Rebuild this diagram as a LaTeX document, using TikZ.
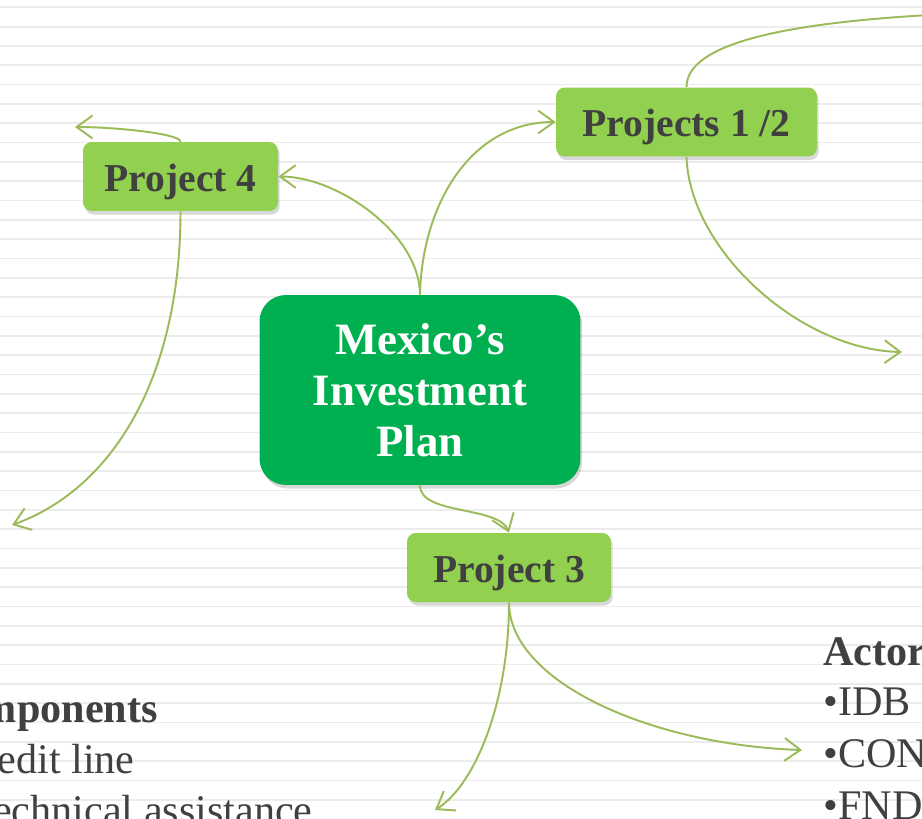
\documentclass[tikz,border=0pt]{standalone}
\usepackage{fontspec}
\setmainfont{Liberation Serif}
\usepackage{tikz}
\usetikzlibrary{arrows.meta, shadows}
\definecolor{mygreen}{RGB}{0,176,80}
\definecolor{mylime}{RGB}{146,208,80}
\definecolor{myolive}{RGB}{155,187,89}
\definecolor{mytext}{RGB}{64,64,64}
\definecolor{mystripe}{RGB}{236,236,236}
\tikzset{
  mainbox/.style={rectangle, fill=mygreen, text=white, align=center,
    minimum width=6.42cm, minimum height=3.8cm, rounded corners=15pt,
    font=\fontsize{25.5}{29}\selectfont\bfseries,
    drop shadow={shadow xshift=1pt, shadow yshift=-2pt, opacity=0.3}},
  projbox/.style={rectangle, fill=mylime, text=mytext, align=center,
    minimum height=1.38cm, rounded corners=5pt, text height=16.8pt, text depth=0pt,
    font=\fontsize{22.5}{26}\selectfont\bfseries,
    drop shadow={shadow xshift=1pt, shadow yshift=-2pt, opacity=0.3}},
  link/.style={-{Straight Barb[length=9pt,width=13pt]}, line width=1.1pt, color=myolive},
  stripe/.style={line width=1pt, color=mystripe},
  listtext/.style={font=\fontsize{24}{29}\selectfont, text=mytext, inner sep=0pt}
}

\begin{document}
\begin{tikzpicture}[x=0.02cm, y=-0.02cm]
  \useasboundingbox (0,0) rectangle (922,818);
  \clip (0,0) rectangle (922,818);
  \fill[white] (0,0) rectangle (922,818);
  \foreach \k in {0,...,41}
    \draw[stripe] (0,7.3+19.33*\k) -- (922,7.3+19.33*\k);

  \node[mainbox] (plan) at (420,390) {Mexico’s\\Investment\\Plan};
  \node[projbox, minimum width=3.9cm] (proj4) at (180.5,176.5) {Project 4};
  \node[projbox, minimum width=5.22cm] (proj12) at (686.5,122) {Projects 1 /2};
  \node[projbox, minimum width=4.08cm] (proj3) at (509,567.5) {Project 3};

  % free ends of the branches
  \coordinate (p4up) at (75,127);
  \coordinate (p4left) at (12,525);
  \coordinate (p12far) at (1000,12);
  \coordinate (p12right) at (902,352);
  \coordinate (p3left) at (435,810);
  \coordinate (p3right) at (802,750);

  \draw[link] (plan.north) .. controls +(2,-90) and +(-85,0) .. (proj12.west);
  \draw[link] (plan.north) .. controls +(0,-60) and +(60,0) .. (proj4.east);
  \draw[link] (plan.south) .. controls +(0,30) and +(-10,-27) .. (proj3.north);
  \draw[link] (proj4.north) .. controls +(0,-8) and +(40,0) .. (p4up);
  \draw[link] (proj4.south) .. controls +(0,170) and +(98,-35) .. (p4left);
  \draw[line width=1.1pt, color=myolive] (proj12.north) .. controls +(0,-47) and +(-200,6) .. (p12far);
  \draw[link] (proj12.south) .. controls +(3,93) and +(-102,-2) .. (p12right);
  \draw[link] (proj3.south) .. controls +(0,100) and +(40,-25) .. (p3left);
  \draw[link] (proj3.south) .. controls +(0,80) and +(-150,-5) .. (p3right);

  \node[listtext, anchor=base east] (comphead) at (158,722) {\bfseries Components};
  \node[listtext, anchor=base east] (credit) at (135,773) {•Credit line};
  \node[listtext, anchor=base east] (techassist) at (313,824) {•Technical assistance};
  \node[listtext, anchor=base west] (actorhead) at (823,665) {\bfseries Actors};
  \node[listtext, anchor=base west] (idb) at (823,715) {•IDB (FIP)};
  \node[listtext, anchor=base west] (conafor) at (823,767) {•CONAFOR};
  \node[listtext, anchor=base west] (fnd) at (823,819) {•FND};
\end{tikzpicture}
\end{document}
